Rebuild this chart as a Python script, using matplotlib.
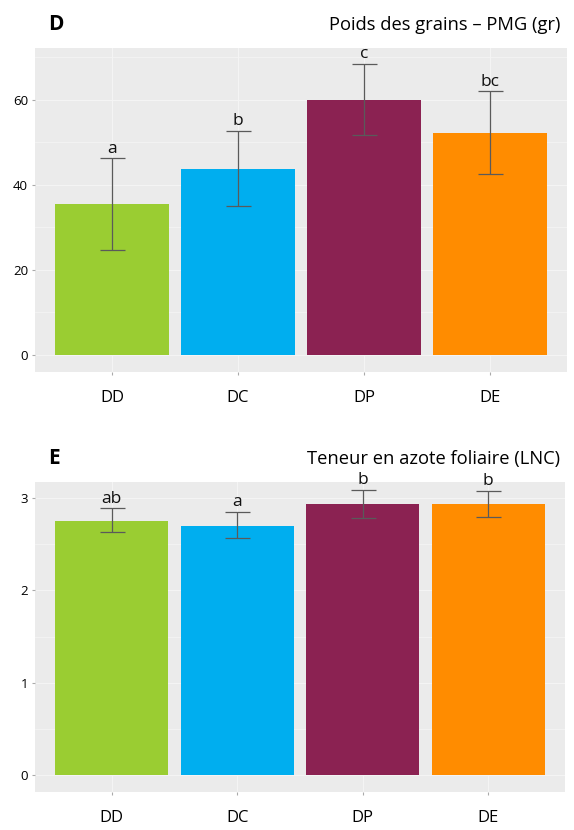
import matplotlib
matplotlib.use("Agg")
import matplotlib.pyplot as plt
import numpy as np

plt.rcParams['font.family'] = ['Open Sans', 'DejaVu Sans']

categories = ["DD", "DC", "DP", "DE"]
colors = ["#9ACD32", "#00AEEF", "#8B2252", "#FF8C00"]

pmg_mean = [35.5, 43.8, 60.0, 52.2]
pmg_low = [24.7, 35.0, 51.8, 42.5]
pmg_high = [46.3, 52.8, 68.5, 62.0]
pmg_letters = ["a", "b", "c", "bc"]
pmg_ticks = [0, 20, 40, 60]

lnc_mean = [2.75, 2.70, 2.93, 2.93]
lnc_low = [2.63, 2.57, 2.78, 2.79]
lnc_high = [2.89, 2.85, 3.09, 3.08]
lnc_letters = ["ab", "a", "b", "b"]
lnc_ticks = [0, 1, 2, 3]

fig = plt.figure(figsize=(5.74, 8.30), dpi=100)

def panel(rect, means, lows, highs, letters, ticks, ylim, letter, title):
    ax = fig.add_axes(rect)
    ax.set_facecolor("#EBEBEB")
    x = np.arange(len(categories))
    ax.bar(x, means, width=0.9, color=colors, zorder=2)
    m = np.array(means)
    yerr = [m - np.array(lows), np.array(highs) - m]
    ax.errorbar(x, means, yerr=yerr, fmt="none", ecolor="#5a5a5a",
                elinewidth=0.9, capsize=9, capthick=0.9, zorder=3)
    for xi, hi, lt in zip(x, highs, letters):
        ax.annotate(lt, (xi, hi), xytext=(0, 1), textcoords="offset points",
                    ha="center", va="bottom", fontsize=12.5, color="#111111", zorder=4)
    ax.set_yticks(ticks)
    ax.set_yticklabels([str(t) for t in ticks])
    step = ticks[1] - ticks[0]
    mids = [t + step / 2 for t in ticks if t + step / 2 < ylim[1]]
    ax.set_yticks(mids, minor=True)
    ax.set_xticks(x)
    ax.set_xticklabels(categories, fontsize=12)
    ax.set_xlim(-0.61, 3.61)
    ax.set_ylim(*ylim)
    ax.grid(True, which="major", color="#F4F4F4", linewidth=0.8, zorder=0)
    ax.grid(True, which="minor", axis="y", color="#F4F4F4", linewidth=0.6, zorder=0)
    ax.set_axisbelow(True)
    for s in ax.spines.values():
        s.set_visible(False)
    ax.tick_params(axis="y", which="major", length=2, color="#AAAAAA", labelsize=9.5, pad=3)
    ax.tick_params(axis="y", which="minor", length=0)
    ax.tick_params(axis="x", length=2, color="#AAAAAA", pad=11)
    fig.text(0.084, rect[1] + rect[3] + 0.022, letter, fontsize=15,
             fontweight="bold", ha="left", va="baseline")
    fig.text(0.976, rect[1] + rect[3] + 0.022, title, fontsize=13.2, ha="right",
             va="baseline")
    return ax

panel([0.061, 0.552, 0.927, 0.390], pmg_mean, pmg_low, pmg_high, pmg_letters,
      pmg_ticks, (-4.0, 72.2), "D", "Poids des grains – PMG (gr)")
panel([0.061, 0.046, 0.923, 0.373], lnc_mean, lnc_low, lnc_high, lnc_letters,
      lnc_ticks, (-0.18, 3.17), "E", "Teneur en azote foliaire (LNC)")

fig.savefig("out.png", dpi=100)
